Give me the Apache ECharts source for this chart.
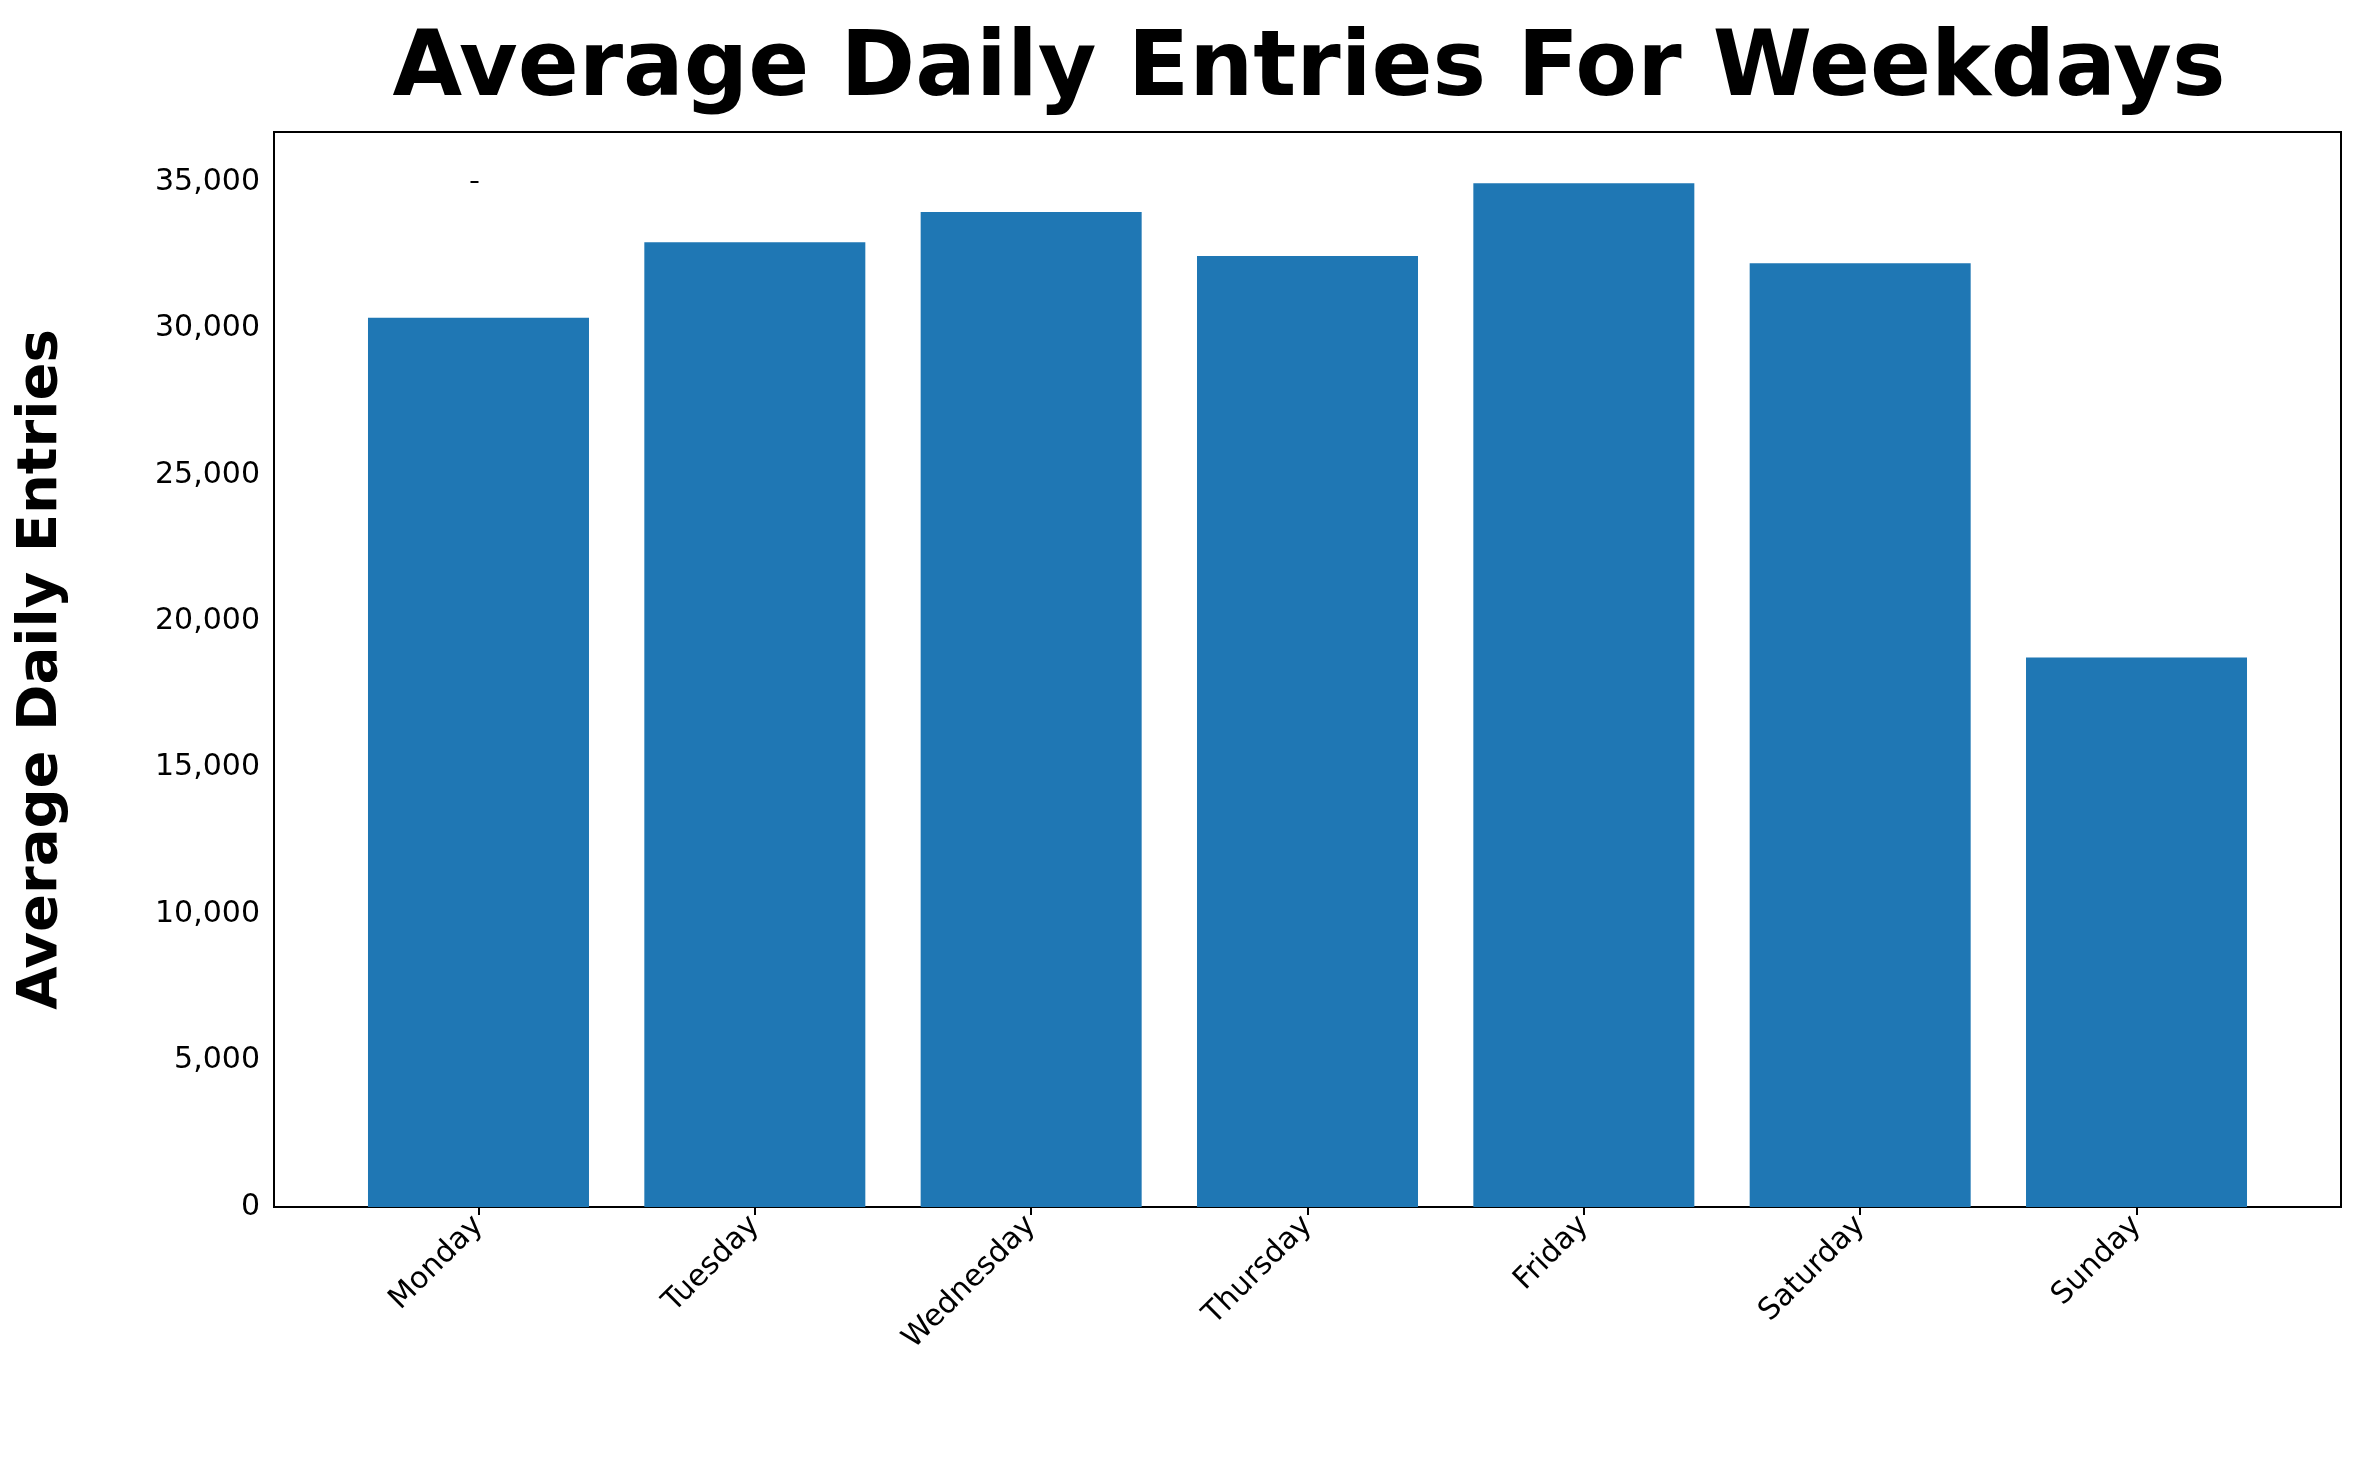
<!DOCTYPE html>
<html><head><meta charset="utf-8">
<script src="https://cdn.jsdelivr.net/npm/echarts@6/dist/echarts.min.js"></script>
<style>html,body{margin:0;padding:0;background:#fff}#c{width:2371px;height:1465px}</style>
</head><body><div id="c"></div>
<script>
const categories = ['Monday','Tuesday','Wednesday','Thursday','Friday','Saturday','Sunday'];
const values = [30360, 32940, 33970, 32470, 34950, 32220, 18760];
const yTicks = [0,5000,10000,15000,20000,25000,30000,35000];
const chart = echarts.init(document.getElementById('c'));
const F = 'DejaVu Sans';
chart.setOption({
  animation:false,
  title:{text:'Average Daily Entries For Weekdays',left:1304,top:22,textAlign:'center',
    textStyle:{fontFamily:F,fontWeight:'bold',fontSize:90,color:'#000'}},
  grid:{left:274,right:30,top:132,bottom:258,show:true,borderColor:'#000',borderWidth:2,containLabel:false},
  xAxis:{type:'value',min:-0.74,max:6.74,interval:1,
    axisLine:{show:false},splitLine:{show:false},
    axisTick:{show:true,length:8,lineStyle:{color:'#000',width:2},customValues:[0,1,2,3,4,5,6]},
    axisLabel:{fontFamily:F,fontSize:30,color:'#000',rotate:45,margin:14,
      customValues:[0,1,2,3,4,5,6],
      formatter:v=>categories[Math.round(v)]||''}},
  yAxis:{type:'value',min:0,max:36700,
    name:'Average Daily Entries',nameLocation:'middle',nameGap:205,
    nameTextStyle:{fontFamily:F,fontWeight:'bold',fontSize:56,color:'#000'},
    axisLine:{show:false},splitLine:{show:false},
    axisTick:{show:true,length:8,lineStyle:{color:'#000',width:2},customValues:yTicks},
    axisLabel:{fontFamily:F,fontSize:30,color:'#000',margin:14,customValues:yTicks}},
  series:[{type:'bar',barWidth:221,itemStyle:{color:'#1f77b4'},
    data:values.map((v,i)=>[i,v])}]
});
</script></body></html>
